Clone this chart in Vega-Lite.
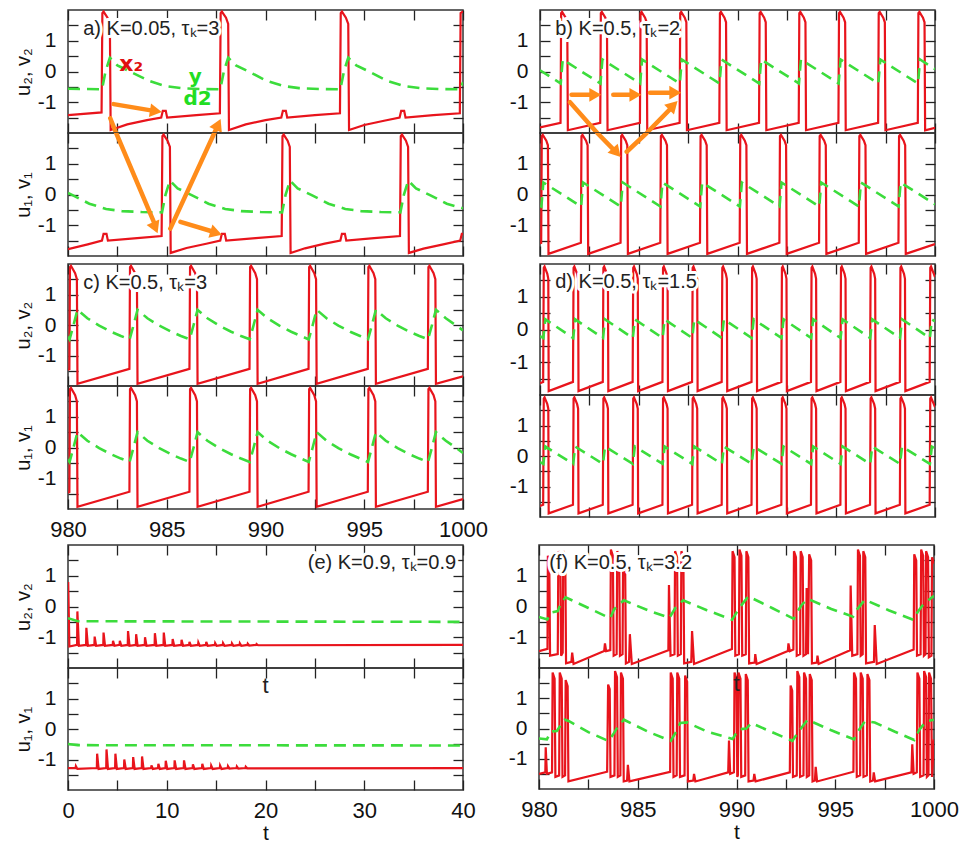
{
"$schema":"https://vega.github.io/schema/vega-lite/v6.json",
"background":"white",
"padding":{"left":12,"top":8,"right":0,"bottom":0},
"spacing":4,
"datasets":{
"a2r":[{"t":980,"y":-1.42},{"t":981.7,"y":-1.33},{"t":981.74,"y":1.9},{"t":981.8,"y":1.95},{"t":982,"y":1.75},{"t":982.12,"y":1.55},{"t":982.16,"y":-1.9},{"t":983,"y":-1.72},{"t":984,"y":-1.58},{"t":984.72,"y":-1.5},{"t":984.8,"y":-1.28},{"t":984.95,"y":-1.28},{"t":985.02,"y":-1.5},{"t":986.5,"y":-1.42},{"t":987.69,"y":-1.36},{"t":987.73,"y":1.9},{"t":987.79,"y":1.95},{"t":988,"y":1.75},{"t":988.11,"y":1.55},{"t":988.15,"y":-1.9},{"t":989,"y":-1.72},{"t":990,"y":-1.58},{"t":990.8,"y":-1.5},{"t":990.88,"y":-1.28},{"t":991.03,"y":-1.28},{"t":991.1,"y":-1.5},{"t":992.5,"y":-1.42},{"t":993.77,"y":-1.36},{"t":993.81,"y":1.9},{"t":993.87,"y":1.95},{"t":994.07,"y":1.75},{"t":994.19,"y":1.55},{"t":994.23,"y":-1.9},{"t":995,"y":-1.74},{"t":996,"y":-1.6},{"t":996.79,"y":-1.5},{"t":996.87,"y":-1.28},{"t":997.02,"y":-1.28},{"t":997.09,"y":-1.5},{"t":998.5,"y":-1.42},{"t":999.84,"y":-1.36},{"t":999.88,"y":1.9},{"t":1000,"y":1.95}],
"a2g":[{"t":980,"y":-0.56},{"t":981.72,"y":-0.58},{"t":981.9,"y":0},{"t":982.12,"y":0.45},{"t":982.5,"y":0.2},{"t":983.2,"y":-0.02},{"t":984.1,"y":-0.3},{"t":984.9,"y":-0.47},{"t":985.7,"y":-0.54},{"t":986.7,"y":-0.57},{"t":987.71,"y":-0.58},{"t":987.89,"y":0},{"t":988.11,"y":0.45},{"t":988.5,"y":0.2},{"t":989.2,"y":-0.02},{"t":990.05,"y":-0.3},{"t":990.9,"y":-0.47},{"t":991.7,"y":-0.54},{"t":992.7,"y":-0.57},{"t":993.79,"y":-0.58},{"t":993.97,"y":0},{"t":994.19,"y":0.45},{"t":994.6,"y":0.2},{"t":995.3,"y":-0.02},{"t":996.15,"y":-0.3},{"t":997,"y":-0.47},{"t":997.8,"y":-0.54},{"t":998.8,"y":-0.57},{"t":999.86,"y":-0.58},{"t":1000,"y":-0.35}],
"a1r":[{"t":980,"y":-1.78},{"t":981,"y":-1.62},{"t":981.72,"y":-1.5},{"t":981.8,"y":-1.28},{"t":981.95,"y":-1.28},{"t":982.02,"y":-1.5},{"t":983.5,"y":-1.42},{"t":984.74,"y":-1.35},{"t":984.78,"y":1.9},{"t":984.84,"y":1.95},{"t":985.04,"y":1.75},{"t":985.16,"y":1.55},{"t":985.2,"y":-1.9},{"t":986,"y":-1.74},{"t":987,"y":-1.6},{"t":987.71,"y":-1.5},{"t":987.79,"y":-1.28},{"t":987.94,"y":-1.28},{"t":988.01,"y":-1.5},{"t":989.5,"y":-1.42},{"t":990.82,"y":-1.35},{"t":990.86,"y":1.9},{"t":990.92,"y":1.95},{"t":991.12,"y":1.75},{"t":991.23,"y":1.55},{"t":991.27,"y":-1.9},{"t":992,"y":-1.75},{"t":993,"y":-1.6},{"t":993.79,"y":-1.5},{"t":993.87,"y":-1.28},{"t":994.02,"y":-1.28},{"t":994.09,"y":-1.5},{"t":995.5,"y":-1.42},{"t":996.81,"y":-1.35},{"t":996.85,"y":1.9},{"t":996.91,"y":1.95},{"t":997.11,"y":1.75},{"t":997.22,"y":1.55},{"t":997.26,"y":-1.9},{"t":998,"y":-1.76},{"t":999,"y":-1.62},{"t":999.86,"y":-1.5},{"t":999.94,"y":-1.28},{"t":1000,"y":-1.28}],
"a1g":[{"t":980,"y":0.05},{"t":980.23,"y":-0.02},{"t":981.08,"y":-0.3},{"t":981.93,"y":-0.47},{"t":982.73,"y":-0.54},{"t":983.73,"y":-0.57},{"t":984.76,"y":-0.58},{"t":984.94,"y":0},{"t":985.16,"y":0.45},{"t":985.55,"y":0.2},{"t":986.26,"y":-0.02},{"t":987.11,"y":-0.3},{"t":987.96,"y":-0.47},{"t":988.76,"y":-0.54},{"t":989.76,"y":-0.57},{"t":990.84,"y":-0.58},{"t":991.02,"y":0},{"t":991.24,"y":0.45},{"t":991.63,"y":0.2},{"t":992.34,"y":-0.02},{"t":993.19,"y":-0.3},{"t":994.04,"y":-0.47},{"t":994.84,"y":-0.54},{"t":995.84,"y":-0.57},{"t":996.83,"y":-0.58},{"t":997.01,"y":0},{"t":997.23,"y":0.45},{"t":997.62,"y":0.2},{"t":998.33,"y":-0.02},{"t":999.18,"y":-0.3},{"t":1000,"y":-0.45}],
"b2r":[{"t":980,"y":-1.82},{"t":981.04,"y":-1.67},{"t":981.07,"y":1.9},{"t":981.12,"y":1.94},{"t":981.3,"y":1.75},{"t":981.38,"y":1.6},{"t":981.41,"y":-1.91},{"t":983.05,"y":-1.67},{"t":983.08,"y":1.9},{"t":983.13,"y":1.94},{"t":983.31,"y":1.75},{"t":983.39,"y":1.6},{"t":983.42,"y":-1.91},{"t":985.06,"y":-1.67},{"t":985.09,"y":1.9},{"t":985.14,"y":1.94},{"t":985.32,"y":1.75},{"t":985.4,"y":1.6},{"t":985.43,"y":-1.91},{"t":987.07,"y":-1.67},{"t":987.1,"y":1.9},{"t":987.15,"y":1.94},{"t":987.33,"y":1.75},{"t":987.41,"y":1.6},{"t":987.44,"y":-1.91},{"t":989.08,"y":-1.67},{"t":989.11,"y":1.9},{"t":989.16,"y":1.94},{"t":989.34,"y":1.75},{"t":989.42,"y":1.6},{"t":989.45,"y":-1.91},{"t":991.09,"y":-1.67},{"t":991.12,"y":1.9},{"t":991.17,"y":1.94},{"t":991.35,"y":1.75},{"t":991.43,"y":1.6},{"t":991.46,"y":-1.91},{"t":993.1,"y":-1.67},{"t":993.13,"y":1.9},{"t":993.18,"y":1.94},{"t":993.36,"y":1.75},{"t":993.44,"y":1.6},{"t":993.47,"y":-1.91},{"t":995.11,"y":-1.67},{"t":995.14,"y":1.9},{"t":995.19,"y":1.94},{"t":995.37,"y":1.75},{"t":995.45,"y":1.6},{"t":995.48,"y":-1.91},{"t":997.12,"y":-1.67},{"t":997.15,"y":1.9},{"t":997.2,"y":1.94},{"t":997.38,"y":1.75},{"t":997.46,"y":1.6},{"t":997.49,"y":-1.91},{"t":999.13,"y":-1.67},{"t":999.16,"y":1.9},{"t":999.21,"y":1.94},{"t":999.39,"y":1.75},{"t":999.47,"y":1.6},{"t":999.5,"y":-1.91},{"t":1000,"y":-1.83}],
"b2g":[{"t":980,"y":0.04},{"t":981.05,"y":-0.39},{"t":981.15,"y":0.39},{"t":983.06,"y":-0.39},{"t":983.16,"y":0.39},{"t":985.07,"y":-0.39},{"t":985.17,"y":0.39},{"t":987.08,"y":-0.39},{"t":987.18,"y":0.39},{"t":989.09,"y":-0.39},{"t":989.19,"y":0.39},{"t":991.1,"y":-0.39},{"t":991.2,"y":0.39},{"t":993.11,"y":-0.39},{"t":993.21,"y":0.39},{"t":995.12,"y":-0.39},{"t":995.22,"y":0.39},{"t":997.13,"y":-0.39},{"t":997.23,"y":0.39},{"t":999.14,"y":-0.39},{"t":999.24,"y":0.39},{"t":1000,"y":0.08}],
"b1r":[{"t":980,"y":-1.58},{"t":980.06,"y":-1.57},{"t":980.09,"y":1.9},{"t":980.14,"y":1.94},{"t":980.32,"y":1.75},{"t":980.4,"y":1.6},{"t":980.43,"y":-1.93},{"t":982.07,"y":-1.57},{"t":982.1,"y":1.9},{"t":982.15,"y":1.94},{"t":982.33,"y":1.75},{"t":982.41,"y":1.6},{"t":982.44,"y":-1.93},{"t":984.08,"y":-1.57},{"t":984.11,"y":1.9},{"t":984.16,"y":1.94},{"t":984.34,"y":1.75},{"t":984.42,"y":1.6},{"t":984.45,"y":-1.93},{"t":986.09,"y":-1.57},{"t":986.12,"y":1.9},{"t":986.17,"y":1.94},{"t":986.35,"y":1.75},{"t":986.43,"y":1.6},{"t":986.46,"y":-1.93},{"t":988.1,"y":-1.57},{"t":988.13,"y":1.9},{"t":988.18,"y":1.94},{"t":988.36,"y":1.75},{"t":988.44,"y":1.6},{"t":988.47,"y":-1.93},{"t":990.11,"y":-1.57},{"t":990.14,"y":1.9},{"t":990.19,"y":1.94},{"t":990.37,"y":1.75},{"t":990.45,"y":1.6},{"t":990.48,"y":-1.93},{"t":992.12,"y":-1.57},{"t":992.15,"y":1.9},{"t":992.2,"y":1.94},{"t":992.38,"y":1.75},{"t":992.46,"y":1.6},{"t":992.49,"y":-1.93},{"t":994.13,"y":-1.57},{"t":994.16,"y":1.9},{"t":994.21,"y":1.94},{"t":994.39,"y":1.75},{"t":994.47,"y":1.6},{"t":994.5,"y":-1.93},{"t":996.14,"y":-1.57},{"t":996.17,"y":1.9},{"t":996.22,"y":1.94},{"t":996.4,"y":1.75},{"t":996.48,"y":1.6},{"t":996.51,"y":-1.93},{"t":998.15,"y":-1.57},{"t":998.18,"y":1.9},{"t":998.23,"y":1.94},{"t":998.41,"y":1.75},{"t":998.49,"y":1.6},{"t":998.52,"y":-1.93},{"t":1000,"y":-1.61}],
"b1g":[{"t":980,"y":-0.36},{"t":980.07,"y":-0.39},{"t":980.17,"y":0.39},{"t":982.08,"y":-0.39},{"t":982.18,"y":0.39},{"t":984.09,"y":-0.39},{"t":984.19,"y":0.39},{"t":986.1,"y":-0.39},{"t":986.2,"y":0.39},{"t":988.11,"y":-0.39},{"t":988.21,"y":0.39},{"t":990.12,"y":-0.39},{"t":990.22,"y":0.39},{"t":992.13,"y":-0.39},{"t":992.23,"y":0.39},{"t":994.14,"y":-0.39},{"t":994.24,"y":0.39},{"t":996.15,"y":-0.39},{"t":996.25,"y":0.39},{"t":998.16,"y":-0.39},{"t":998.26,"y":0.39},{"t":1000,"y":-0.32}],
"cr":[{"t":980,"y":-1.47},{"t":980.07,"y":-1.45},{"t":980.1,"y":1.9},{"t":980.15,"y":1.94},{"t":980.36,"y":1.7},{"t":980.45,"y":1.5},{"t":980.48,"y":-1.93},{"t":983.11,"y":-1.44},{"t":983.14,"y":1.9},{"t":983.19,"y":1.94},{"t":983.4,"y":1.7},{"t":983.49,"y":1.5},{"t":983.52,"y":-1.93},{"t":986.15,"y":-1.44},{"t":986.18,"y":1.9},{"t":986.23,"y":1.94},{"t":986.44,"y":1.7},{"t":986.53,"y":1.5},{"t":986.56,"y":-1.93},{"t":989.19,"y":-1.44},{"t":989.22,"y":1.9},{"t":989.27,"y":1.94},{"t":989.48,"y":1.7},{"t":989.57,"y":1.5},{"t":989.6,"y":-1.93},{"t":992.18,"y":-1.44},{"t":992.21,"y":1.9},{"t":992.26,"y":1.94},{"t":992.47,"y":1.7},{"t":992.56,"y":1.5},{"t":992.59,"y":-1.93},{"t":995.18,"y":-1.44},{"t":995.21,"y":1.9},{"t":995.26,"y":1.94},{"t":995.47,"y":1.7},{"t":995.56,"y":1.5},{"t":995.59,"y":-1.93},{"t":998.22,"y":-1.44},{"t":998.25,"y":1.9},{"t":998.3,"y":1.94},{"t":998.51,"y":1.7},{"t":998.6,"y":1.5},{"t":998.63,"y":-1.93},{"t":1000,"y":-1.68}],
"cg":[{"t":980,"y":-0.38},{"t":980.08,"y":-0.47},{"t":980.28,"y":0},{"t":980.48,"y":0.5},{"t":980.98,"y":0.22},{"t":981.58,"y":-0.02},{"t":982.18,"y":-0.22},{"t":982.68,"y":-0.36},{"t":983.12,"y":-0.47},{"t":983.32,"y":0},{"t":983.52,"y":0.5},{"t":984.02,"y":0.22},{"t":984.62,"y":-0.02},{"t":985.22,"y":-0.22},{"t":985.72,"y":-0.36},{"t":986.16,"y":-0.47},{"t":986.36,"y":0},{"t":986.56,"y":0.5},{"t":987.06,"y":0.22},{"t":987.66,"y":-0.02},{"t":988.26,"y":-0.22},{"t":988.76,"y":-0.36},{"t":989.2,"y":-0.47},{"t":989.4,"y":0},{"t":989.6,"y":0.5},{"t":990.1,"y":0.22},{"t":990.7,"y":-0.02},{"t":991.3,"y":-0.22},{"t":991.8,"y":-0.36},{"t":992.19,"y":-0.47},{"t":992.39,"y":0},{"t":992.59,"y":0.5},{"t":993.09,"y":0.22},{"t":993.69,"y":-0.02},{"t":994.29,"y":-0.22},{"t":994.79,"y":-0.36},{"t":995.19,"y":-0.47},{"t":995.39,"y":0},{"t":995.59,"y":0.5},{"t":996.09,"y":0.22},{"t":996.69,"y":-0.02},{"t":997.29,"y":-0.22},{"t":997.79,"y":-0.36},{"t":998.23,"y":-0.47},{"t":998.43,"y":0},{"t":998.63,"y":0.5},{"t":999.13,"y":0.22},{"t":999.73,"y":-0.05},{"t":1000,"y":-0.18}],
"dr":[{"t":980,"y":-1.64},{"t":980.16,"y":-1.6},{"t":980.19,"y":1.88},{"t":980.23,"y":1.92},{"t":980.37,"y":1.7},{"t":980.42,"y":1.55},{"t":980.44,"y":-1.88},{"t":981.67,"y":-1.6},{"t":981.7,"y":1.88},{"t":981.74,"y":1.92},{"t":981.88,"y":1.7},{"t":981.93,"y":1.55},{"t":981.95,"y":-1.88},{"t":983.18,"y":-1.6},{"t":983.21,"y":1.88},{"t":983.25,"y":1.92},{"t":983.39,"y":1.7},{"t":983.44,"y":1.55},{"t":983.46,"y":-1.88},{"t":984.69,"y":-1.6},{"t":984.72,"y":1.88},{"t":984.76,"y":1.92},{"t":984.9,"y":1.7},{"t":984.95,"y":1.55},{"t":984.97,"y":-1.88},{"t":986.2,"y":-1.6},{"t":986.23,"y":1.88},{"t":986.27,"y":1.92},{"t":986.41,"y":1.7},{"t":986.46,"y":1.55},{"t":986.48,"y":-1.88},{"t":987.7,"y":-1.6},{"t":987.73,"y":1.88},{"t":987.77,"y":1.92},{"t":987.91,"y":1.7},{"t":987.96,"y":1.55},{"t":987.98,"y":-1.88},{"t":989.2,"y":-1.6},{"t":989.23,"y":1.88},{"t":989.27,"y":1.92},{"t":989.41,"y":1.7},{"t":989.46,"y":1.55},{"t":989.48,"y":-1.88},{"t":990.71,"y":-1.6},{"t":990.74,"y":1.88},{"t":990.78,"y":1.92},{"t":990.92,"y":1.7},{"t":990.97,"y":1.55},{"t":990.99,"y":-1.88},{"t":992.22,"y":-1.6},{"t":992.25,"y":1.88},{"t":992.29,"y":1.92},{"t":992.43,"y":1.7},{"t":992.48,"y":1.55},{"t":992.5,"y":-1.88},{"t":993.72,"y":-1.6},{"t":993.75,"y":1.88},{"t":993.79,"y":1.92},{"t":993.93,"y":1.7},{"t":993.98,"y":1.55},{"t":994,"y":-1.88},{"t":995.21,"y":-1.6},{"t":995.24,"y":1.88},{"t":995.28,"y":1.92},{"t":995.42,"y":1.7},{"t":995.47,"y":1.55},{"t":995.49,"y":-1.88},{"t":996.71,"y":-1.6},{"t":996.74,"y":1.88},{"t":996.78,"y":1.92},{"t":996.92,"y":1.7},{"t":996.97,"y":1.55},{"t":996.99,"y":-1.88},{"t":998.22,"y":-1.6},{"t":998.25,"y":1.88},{"t":998.29,"y":1.92},{"t":998.43,"y":1.7},{"t":998.48,"y":1.55},{"t":998.5,"y":-1.88},{"t":999.73,"y":-1.6},{"t":999.76,"y":1.88},{"t":999.8,"y":1.92},{"t":999.94,"y":1.7},{"t":1000,"y":1.6}],
"dg":[{"t":980,"y":-0.2},{"t":980.17,"y":-0.26},{"t":980.27,"y":0.31},{"t":981.68,"y":-0.26},{"t":981.78,"y":0.31},{"t":983.19,"y":-0.26},{"t":983.29,"y":0.31},{"t":984.7,"y":-0.26},{"t":984.8,"y":0.31},{"t":986.21,"y":-0.26},{"t":986.31,"y":0.31},{"t":987.71,"y":-0.26},{"t":987.81,"y":0.31},{"t":989.21,"y":-0.26},{"t":989.31,"y":0.31},{"t":990.72,"y":-0.26},{"t":990.82,"y":0.31},{"t":992.23,"y":-0.26},{"t":992.33,"y":0.31},{"t":993.73,"y":-0.26},{"t":993.83,"y":0.31},{"t":995.22,"y":-0.26},{"t":995.32,"y":0.31},{"t":996.72,"y":-0.26},{"t":996.82,"y":0.31},{"t":998.23,"y":-0.26},{"t":998.33,"y":0.31},{"t":999.74,"y":-0.26},{"t":999.84,"y":0.31},{"t":1000,"y":0.25}],
"e2r":[{"t":0,"y":-0.9},{"t":0.02,"y":0.8},{"t":0.14,"y":-1.3},{"t":0.92,"y":-1.25},{"t":0.95,"y":-0.16},{"t":1.1,"y":-1.28},{"t":1.83,"y":-1.25},{"t":1.86,"y":-0.69},{"t":2.01,"y":-1.28},{"t":2.67,"y":-1.25},{"t":2.7,"y":-0.98},{"t":2.85,"y":-1.28},{"t":3.57,"y":-1.25},{"t":3.6,"y":-0.85},{"t":3.75,"y":-1.28},{"t":4.53,"y":-1.25},{"t":4.56,"y":-1.12},{"t":4.71,"y":-1.28},{"t":5.22,"y":-1.25},{"t":5.25,"y":-1.12},{"t":5.4,"y":-1.28},{"t":6.05,"y":-1.25},{"t":6.08,"y":-0.8},{"t":6.23,"y":-1.28},{"t":6.87,"y":-1.25},{"t":6.9,"y":-0.9},{"t":7.05,"y":-1.28},{"t":7.77,"y":-1.25},{"t":7.8,"y":-1},{"t":7.95,"y":-1.28},{"t":8.77,"y":-1.25},{"t":8.8,"y":-0.87},{"t":8.95,"y":-1.28},{"t":9.67,"y":-1.25},{"t":9.7,"y":-0.85},{"t":9.85,"y":-1.28},{"t":10.57,"y":-1.25},{"t":10.6,"y":-1.06},{"t":10.75,"y":-1.28},{"t":11.47,"y":-1.25},{"t":11.5,"y":-1.08},{"t":11.65,"y":-1.28},{"t":12.27,"y":-1.25},{"t":12.3,"y":-1.15},{"t":12.45,"y":-1.28},{"t":13.17,"y":-1.25},{"t":13.2,"y":-1.17},{"t":13.35,"y":-1.28},{"t":13.97,"y":-1.25},{"t":14,"y":-1.15},{"t":14.15,"y":-1.28},{"t":14.87,"y":-1.25},{"t":14.9,"y":-1.19},{"t":15.05,"y":-1.28},{"t":15.67,"y":-1.25},{"t":15.7,"y":-1.19},{"t":15.85,"y":-1.28},{"t":16.57,"y":-1.25},{"t":16.6,"y":-1.2},{"t":16.75,"y":-1.28},{"t":17.37,"y":-1.25},{"t":17.4,"y":-1.2},{"t":17.55,"y":-1.28},{"t":18.17,"y":-1.25},{"t":18.2,"y":-1.21},{"t":18.35,"y":-1.27},{"t":19.07,"y":-1.25},{"t":19.1,"y":-1.22},{"t":19.25,"y":-1.26},{"t":40,"y":-1.25}],
"e2g":[{"t":0,"y":-0.38},{"t":1,"y":-0.48},{"t":40,"y":-0.5}],
"e1r":[{"t":0,"y":-1.28},{"t":0.77,"y":-1.28},{"t":0.8,"y":-1.22},{"t":0.95,"y":-1.31},{"t":2.92,"y":-1.28},{"t":2.95,"y":-0.81},{"t":3.1,"y":-1.31},{"t":3.87,"y":-1.28},{"t":3.9,"y":-0.67},{"t":4.05,"y":-1.31},{"t":4.77,"y":-1.28},{"t":4.8,"y":-0.81},{"t":4.95,"y":-1.31},{"t":5.67,"y":-1.28},{"t":5.7,"y":-1},{"t":5.85,"y":-1.31},{"t":6.57,"y":-1.28},{"t":6.6,"y":-0.92},{"t":6.75,"y":-1.31},{"t":7.47,"y":-1.28},{"t":7.5,"y":-0.9},{"t":7.65,"y":-1.31},{"t":8.42,"y":-1.28},{"t":8.45,"y":-1.19},{"t":8.6,"y":-1.31},{"t":9.12,"y":-1.28},{"t":9.15,"y":-1.14},{"t":9.3,"y":-1.31},{"t":9.87,"y":-1.28},{"t":9.9,"y":-1.04},{"t":10.05,"y":-1.31},{"t":10.77,"y":-1.28},{"t":10.8,"y":-1.03},{"t":10.95,"y":-1.31},{"t":11.72,"y":-1.28},{"t":11.75,"y":-1.03},{"t":11.9,"y":-1.31},{"t":12.62,"y":-1.28},{"t":12.65,"y":-1.16},{"t":12.8,"y":-1.31},{"t":13.57,"y":-1.28},{"t":13.6,"y":-1.14},{"t":13.75,"y":-1.31},{"t":14.47,"y":-1.28},{"t":14.5,"y":-1.2},{"t":14.65,"y":-1.31},{"t":15.37,"y":-1.28},{"t":15.4,"y":-1.2},{"t":15.55,"y":-1.31},{"t":16.17,"y":-1.28},{"t":16.2,"y":-1.22},{"t":16.35,"y":-1.3},{"t":17.07,"y":-1.28},{"t":17.1,"y":-1.23},{"t":17.25,"y":-1.3},{"t":17.97,"y":-1.28},{"t":18,"y":-1.24},{"t":18.15,"y":-1.29},{"t":40,"y":-1.28}],
"e1g":[{"t":0,"y":-0.49},{"t":1,"y":-0.53},{"t":40,"y":-0.54}],
"f2r":[{"t":980,"y":-1.45},{"t":980.43,"y":-1.38},{"t":980.45,"y":1.65},{"t":980.52,"y":1.5},{"t":980.56,"y":-1.6},{"t":980.95,"y":-1.55},{"t":980.98,"y":1.8},{"t":981.08,"y":1.6},{"t":981.12,"y":-1.6},{"t":981.2,"y":-1.5},{"t":981.23,"y":1.8},{"t":981.33,"y":1.6},{"t":981.37,"y":-1.85},{"t":981.64,"y":-1.8},{"t":981.68,"y":-1.5},{"t":981.75,"y":-1.87},{"t":983.3,"y":-1.45},{"t":983.34,"y":-1.2},{"t":983.4,"y":-1.45},{"t":983.61,"y":-1.42},{"t":983.64,"y":1.85},{"t":983.74,"y":1.65},{"t":983.78,"y":-1.6},{"t":983.93,"y":-1.55},{"t":983.96,"y":1.8},{"t":984.06,"y":1.6},{"t":984.1,"y":-1.6},{"t":984.23,"y":-1.55},{"t":984.26,"y":1.65},{"t":984.36,"y":1.5},{"t":984.4,"y":-1.85},{"t":984.56,"y":-1.8},{"t":984.6,"y":-0.9},{"t":984.7,"y":-1.87},{"t":986.55,"y":-1.42},{"t":986.58,"y":0.7},{"t":986.66,"y":-1.6},{"t":986.86,"y":-1.55},{"t":986.89,"y":1.8},{"t":986.99,"y":1.6},{"t":987.03,"y":-1.6},{"t":987.18,"y":-1.55},{"t":987.21,"y":1.8},{"t":987.31,"y":1.6},{"t":987.35,"y":-1.85},{"t":987.71,"y":-1.8},{"t":987.75,"y":-0.8},{"t":987.85,"y":-1.87},{"t":989.77,"y":-1.38},{"t":989.8,"y":1.8},{"t":989.9,"y":1.6},{"t":989.94,"y":-1.6},{"t":990.12,"y":-1.55},{"t":990.15,"y":1.85},{"t":990.25,"y":1.65},{"t":990.29,"y":-1.6},{"t":990.47,"y":-1.55},{"t":990.5,"y":1.8},{"t":990.6,"y":1.6},{"t":990.64,"y":-1.85},{"t":990.92,"y":-1.82},{"t":990.95,"y":-1.55},{"t":991.02,"y":-1.87},{"t":992.6,"y":-1.45},{"t":992.63,"y":-1.2},{"t":992.7,"y":-1.45},{"t":992.88,"y":-1.4},{"t":992.91,"y":1.8},{"t":993.01,"y":1.6},{"t":993.05,"y":-1.6},{"t":993.22,"y":-1.55},{"t":993.25,"y":1.8},{"t":993.35,"y":1.6},{"t":993.39,"y":-1.6},{"t":993.52,"y":-1.55},{"t":993.55,"y":0.6},{"t":993.62,"y":-1.55},{"t":993.68,"y":1.7},{"t":993.78,"y":1.5},{"t":993.82,"y":-1.85},{"t":994.07,"y":-1.82},{"t":994.1,"y":-1.6},{"t":994.16,"y":-1.87},{"t":995.75,"y":-1.42},{"t":995.78,"y":0.68},{"t":995.86,"y":-1.6},{"t":996.12,"y":-1.55},{"t":996.15,"y":1.85},{"t":996.25,"y":1.65},{"t":996.29,"y":-1.6},{"t":996.39,"y":-1.55},{"t":996.42,"y":1.8},{"t":996.52,"y":1.6},{"t":996.56,"y":-1.85},{"t":996.96,"y":-1.8},{"t":997,"y":-0.6},{"t":997.1,"y":-1.87},{"t":998.97,"y":-1.4},{"t":999,"y":1.7},{"t":999.1,"y":1.5},{"t":999.14,"y":-1.6},{"t":999.32,"y":-1.55},{"t":999.35,"y":1.85},{"t":999.45,"y":1.65},{"t":999.49,"y":-1.6},{"t":999.57,"y":-1.55},{"t":999.6,"y":1.8},{"t":999.7,"y":1.6},{"t":999.74,"y":-1.65},{"t":999.87,"y":-1.6},{"t":999.9,"y":1.6},{"t":1000,"y":1.4}],
"f2g":[{"t":980,"y":-0.34},{"t":980.42,"y":-0.42},{"t":980.6,"y":-0.2},{"t":980.95,"y":-0.15},{"t":981.1,"y":0.1},{"t":981.35,"y":0.3},{"t":982.5,"y":-0.05},{"t":983.6,"y":-0.38},{"t":983.8,"y":-0.1},{"t":984,"y":0.05},{"t":984.3,"y":0.2},{"t":985.5,"y":-0.12},{"t":986.6,"y":-0.37},{"t":986.9,"y":-0.05},{"t":987.3,"y":0.2},{"t":988.5,"y":-0.12},{"t":989.78,"y":-0.43},{"t":990,"y":-0.2},{"t":990.2,"y":0},{"t":990.6,"y":0.33},{"t":991.8,"y":-0.05},{"t":992.9,"y":-0.4},{"t":993.1,"y":-0.15},{"t":993.3,"y":0.05},{"t":993.6,"y":0.25},{"t":994.8,"y":-0.08},{"t":995.9,"y":-0.33},{"t":996.1,"y":-0.1},{"t":996.5,"y":0.22},{"t":997.7,"y":-0.12},{"t":998.95,"y":-0.43},{"t":999.2,"y":-0.15},{"t":999.5,"y":0.1},{"t":1000,"y":0.35}],
"f1r":[{"t":980,"y":-1.5},{"t":980.32,"y":-1.45},{"t":980.34,"y":-0.62},{"t":980.4,"y":-1.5},{"t":980.66,"y":-1.45},{"t":980.69,"y":1.85},{"t":980.79,"y":1.65},{"t":980.83,"y":-1.6},{"t":981.02,"y":-1.55},{"t":981.05,"y":1.85},{"t":981.15,"y":1.65},{"t":981.19,"y":-1.6},{"t":981.32,"y":-1.55},{"t":981.35,"y":1.6},{"t":981.45,"y":1.4},{"t":981.49,"y":-1.75},{"t":983.45,"y":-1.43},{"t":983.5,"y":1.45},{"t":983.58,"y":1.3},{"t":983.62,"y":-1.6},{"t":983.82,"y":-1.55},{"t":983.85,"y":1.9},{"t":983.95,"y":1.7},{"t":983.99,"y":-1.6},{"t":984.12,"y":-1.55},{"t":984.15,"y":1.85},{"t":984.25,"y":1.65},{"t":984.29,"y":-1.75},{"t":984.46,"y":-1.72},{"t":984.5,"y":-1.2},{"t":984.58,"y":-1.75},{"t":986.64,"y":-1.43},{"t":986.67,"y":1.85},{"t":986.77,"y":1.65},{"t":986.81,"y":-1.6},{"t":986.97,"y":-1.55},{"t":987,"y":1.85},{"t":987.1,"y":1.65},{"t":987.14,"y":-1.6},{"t":987.37,"y":-1.55},{"t":987.4,"y":1.75},{"t":987.5,"y":1.55},{"t":987.54,"y":-1.75},{"t":987.81,"y":-1.72},{"t":987.85,"y":-1.5},{"t":987.92,"y":-1.75},{"t":989.58,"y":-1.45},{"t":989.62,"y":-0.4},{"t":989.68,"y":-1.5},{"t":989.87,"y":-1.45},{"t":989.9,"y":1.85},{"t":990,"y":1.65},{"t":990.04,"y":-1.6},{"t":990.07,"y":-1.55},{"t":990.1,"y":1.85},{"t":990.2,"y":1.65},{"t":990.24,"y":-1.6},{"t":990.44,"y":-1.55},{"t":990.47,"y":1.8},{"t":990.57,"y":1.6},{"t":990.61,"y":-1.75},{"t":990.86,"y":-1.72},{"t":990.9,"y":-1.5},{"t":990.97,"y":-1.75},{"t":992.7,"y":-1.45},{"t":992.74,"y":1.42},{"t":992.82,"y":1.25},{"t":992.86,"y":-1.6},{"t":993.05,"y":-1.55},{"t":993.08,"y":1.9},{"t":993.18,"y":1.7},{"t":993.22,"y":-1.6},{"t":993.39,"y":-1.55},{"t":993.42,"y":1.85},{"t":993.52,"y":1.65},{"t":993.56,"y":-1.6},{"t":993.68,"y":-1.55},{"t":993.71,"y":1.8},{"t":993.81,"y":1.6},{"t":993.85,"y":-1.75},{"t":993.97,"y":-1.72},{"t":994.01,"y":-1.27},{"t":994.08,"y":-1.75},{"t":995.92,"y":-1.43},{"t":995.95,"y":1.85},{"t":996.05,"y":1.65},{"t":996.09,"y":-1.6},{"t":996.26,"y":-1.55},{"t":996.29,"y":1.85},{"t":996.39,"y":1.65},{"t":996.43,"y":-1.6},{"t":996.6,"y":-1.55},{"t":996.63,"y":1.8},{"t":996.73,"y":1.6},{"t":996.77,"y":-1.75},{"t":996.91,"y":-1.72},{"t":996.95,"y":-1.45},{"t":997.02,"y":-1.75},{"t":998.86,"y":-1.45},{"t":998.9,"y":-0.52},{"t":998.97,"y":-1.5},{"t":999.13,"y":-1.45},{"t":999.16,"y":1.85},{"t":999.26,"y":1.65},{"t":999.3,"y":-1.6},{"t":999.47,"y":-1.55},{"t":999.5,"y":1.9},{"t":999.6,"y":1.7},{"t":999.64,"y":-1.6},{"t":999.72,"y":-1.55},{"t":999.75,"y":1.85},{"t":999.85,"y":1.65},{"t":999.9,"y":-1.6},{"t":1000,"y":-0.36}],
"f1g":[{"t":980,"y":-0.33},{"t":980.4,"y":-0.36},{"t":980.6,"y":-0.1},{"t":980.9,"y":-0.08},{"t":981.3,"y":0.29},{"t":981.5,"y":0.25},{"t":982.5,"y":-0.12},{"t":983.5,"y":-0.41},{"t":983.75,"y":-0.2},{"t":983.95,"y":0.02},{"t":984.3,"y":0.29},{"t":985.5,"y":-0.1},{"t":986.67,"y":-0.41},{"t":986.9,"y":-0.15},{"t":987.15,"y":0.18},{"t":987.5,"y":0.2},{"t":988.5,"y":-0.1},{"t":989.8,"y":-0.35},{"t":990.1,"y":-0.03},{"t":990.5,"y":0},{"t":990.75,"y":0.18},{"t":991.8,"y":-0.12},{"t":992.83,"y":-0.41},{"t":993.2,"y":-0.05},{"t":993.6,"y":0.29},{"t":994.8,"y":-0.06},{"t":995.95,"y":-0.36},{"t":996.15,"y":-0.1},{"t":996.5,"y":0.24},{"t":997,"y":0.2},{"t":998,"y":-0.1},{"t":999,"y":-0.38},{"t":999.25,"y":-0.05},{"t":999.6,"y":0.24},{"t":1000,"y":0.29}],
"arrA2":[{"x":982.31,"y":-1.06,"x2":984.35,"y2":-1.28},{"x":982.14,"y":-1.52,"x2":982.44,"y2":-2.0},{"x":987.41,"y":-2.0,"x2":987.55,"y2":-1.8}],
"arrA1":[{"x":982.44,"y":2.0,"x2":984.35,"y2":-0.9},{"x":985.18,"y":-1.11,"x2":987.41,"y2":2.0},{"x":985.69,"y":-0.89,"x2":987.4,"y2":-1.22}],
"arrB2":[{"x":981.6,"y":-0.76,"x2":982.75,"y2":-0.76},{"x":983.71,"y":-0.76,"x2":984.78,"y2":-0.76},{"x":985.57,"y":-0.69,"x2":986.8,"y2":-0.69},{"x":981.52,"y":-1.0,"x2":982.9,"y2":-2.0},{"x":985.4,"y":-2.0,"x2":986.7,"y2":-1.15}],
"arrB1":[{"x":982.9,"y":2.0,"x2":983.85,"y2":1.38},{"x":984.39,"y":1.39,"x2":985.4,"y2":2.0}]
},
"vconcat":[
{"hconcat":[
{"vconcat":[
{"width":395,"height":123,"resolve":{"axis":{"x":"independent","y":"independent"}},"layer":[
{"data":{"name":"a2r"},"mark":{"type":"line","color":"#e8141c","strokeWidth":2.2,"clip":true},"encoding":{"x":{"field":"t","type":"quantitative","scale":{"domain":[980,1000],"nice":false,"zero":false},"axis":{"orient":"bottom","values":[980,982.5,985,987.5,990,992.5,995,997.5,1000],"labels":false,"title":null,"minExtent":0,"maxExtent":0}},"y":{"field":"y","type":"quantitative","scale":{"domain":[-2,2],"nice":false,"zero":false},"axis":{"orient":"left","values":[-1.5,-1,-0.5,0,0.5,1,1.5],"labelExpr":"datum.value === 1 ? '1' : datum.value === 0 ? '0' : datum.value === -1 ? '-1' : ''","title":"u₂, v₂"}}}},
{"data":{"name":"a2g"},"mark":{"type":"line","color":"#3cdc3c","strokeWidth":2.6,"strokeDash":[12,7],"clip":true},"encoding":{"x":{"field":"t","type":"quantitative","scale":{"domain":[980,1000],"nice":false,"zero":false},"axis":{"orient":"top","values":[980,982.5,985,987.5,990,992.5,995,997.5,1000],"labels":false,"title":null}},"y":{"field":"y","type":"quantitative","scale":{"domain":[-2,2],"nice":false,"zero":false},"axis":{"orient":"right","values":[-1.5,-1,-0.5,0,0.5,1,1.5],"labels":false,"title":null}}}},
{"data":{"name":"arrA2"},"mark":{"type":"rule","color":"#ff8c1a","strokeWidth":4.5,"strokeCap":"round","clip":true},"encoding":{"x":{"field":"x","type":"quantitative","axis":null},"y":{"field":"y","type":"quantitative","axis":null},"x2":{"field":"x2"},"y2":{"field":"y2"}}},
{"data":{"values":[{}]},"mark":{"type":"point","shape":"triangle-right","filled":true,"size":190,"color":"#ff8c1a","opacity":1,"angle":9},"encoding":{"x":{"datum":984.45,"type":"quantitative","axis":null},"y":{"datum":-1.29,"type":"quantitative","axis":null}}},
{"data":{"values":[{}]},"mark":{"type":"point","shape":"triangle-right","filled":true,"size":190,"color":"#ff8c1a","opacity":1,"angle":-65},"encoding":{"x":{"datum":987.6,"type":"quantitative","axis":null},"y":{"datum":-1.72,"type":"quantitative","axis":null}}},
{"data":{"values":[{}]},"mark":{"type":"text","align":"left","baseline":"middle","fontSize":20,"color":"white","stroke":"white","strokeWidth":6,"strokeJoin":"round"},"encoding":{"x":{"datum":980.77,"type":"quantitative","axis":null},"y":{"datum":1.37,"type":"quantitative","axis":null},"text":{"value":"a) K=0.05, τₖ=3"}}},
{"data":{"values":[{}]},"mark":{"type":"text","align":"left","baseline":"middle","fontSize":20,"color":"#222"},"encoding":{"x":{"datum":980.77,"type":"quantitative","axis":null},"y":{"datum":1.37,"type":"quantitative","axis":null},"text":{"value":"a) K=0.05, τₖ=3"}}},
{"data":{"values":[{}]},"mark":{"type":"text","align":"center","baseline":"middle","fontSize":22,"fontWeight":"bold","font":"DejaVu Sans","color":"#e01010"},"encoding":{"x":{"datum":983.2,"type":"quantitative","axis":null},"y":{"datum":0.26,"type":"quantitative","axis":null},"text":{"value":"x₂"}}},
{"data":{"values":[{}]},"mark":{"type":"text","align":"center","baseline":"middle","fontSize":20,"fontWeight":"bold","font":"DejaVu Sans","color":"#22dd22"},"encoding":{"x":{"datum":986.45,"type":"quantitative","axis":null},"y":{"datum":-0.17,"type":"quantitative","axis":null},"text":{"value":"y"}}},
{"data":{"values":[{}]},"mark":{"type":"text","align":"center","baseline":"middle","fontSize":20,"fontWeight":"bold","font":"DejaVu Sans","color":"#22dd22"},"encoding":{"x":{"datum":986.56,"type":"quantitative","axis":null},"y":{"datum":-0.9,"type":"quantitative","axis":null},"text":{"value":"d2"}}}
]},
{"width":395,"height":123,"resolve":{"axis":{"x":"independent","y":"independent"}},"layer":[
{"data":{"name":"a1r"},"mark":{"type":"line","color":"#e8141c","strokeWidth":2.2,"clip":true},"encoding":{"x":{"field":"t","type":"quantitative","scale":{"domain":[980,1000],"nice":false,"zero":false},"axis":{"orient":"bottom","values":[980,982.5,985,987.5,990,992.5,995,997.5,1000],"labels":false,"title":null,"minExtent":0,"maxExtent":0}},"y":{"field":"y","type":"quantitative","scale":{"domain":[-2,2],"nice":false,"zero":false},"axis":{"orient":"left","values":[-1.5,-1,-0.5,0,0.5,1,1.5],"labelExpr":"datum.value === 1 ? '1' : datum.value === 0 ? '0' : datum.value === -1 ? '-1' : ''","title":"u₁, v₁"}}}},
{"data":{"name":"a1g"},"mark":{"type":"line","color":"#3cdc3c","strokeWidth":2.6,"strokeDash":[12,7],"clip":true},"encoding":{"x":{"field":"t","type":"quantitative","scale":{"domain":[980,1000],"nice":false,"zero":false},"axis":{"orient":"top","values":[980,982.5,985,987.5,990,992.5,995,997.5,1000],"labels":false,"title":null}},"y":{"field":"y","type":"quantitative","scale":{"domain":[-2,2],"nice":false,"zero":false},"axis":{"orient":"right","values":[-1.5,-1,-0.5,0,0.5,1,1.5],"labels":false,"title":null}}}},
{"data":{"name":"arrA1"},"mark":{"type":"rule","color":"#ff8c1a","strokeWidth":4.5,"strokeCap":"round","clip":true},"encoding":{"x":{"field":"x","type":"quantitative","axis":null},"y":{"field":"y","type":"quantitative","axis":null},"x2":{"field":"x2"},"y2":{"field":"y2"}}},
{"data":{"values":[{}]},"mark":{"type":"point","shape":"triangle-right","filled":true,"size":190,"color":"#ff8c1a","opacity":1,"angle":67},"encoding":{"x":{"datum":984.42,"type":"quantitative","axis":null},"y":{"datum":-1.08,"type":"quantitative","axis":null}}},
{"data":{"values":[{}]},"mark":{"type":"point","shape":"triangle-right","filled":true,"size":190,"color":"#ff8c1a","opacity":1,"angle":17},"encoding":{"x":{"datum":987.5,"type":"quantitative","axis":null},"y":{"datum":-1.25,"type":"quantitative","axis":null}}}
]}
],"spacing":0,"bounds":"flush"},
{"vconcat":[
{"width":395,"height":123,"resolve":{"axis":{"x":"independent","y":"independent"}},"layer":[
{"data":{"name":"b2r"},"mark":{"type":"line","color":"#e8141c","strokeWidth":2.2,"clip":true},"encoding":{"x":{"field":"t","type":"quantitative","scale":{"domain":[980,1000],"nice":false,"zero":false},"axis":{"orient":"bottom","values":[980,982.5,985,987.5,990,992.5,995,997.5,1000],"labels":false,"title":null,"minExtent":0,"maxExtent":0}},"y":{"field":"y","type":"quantitative","scale":{"domain":[-2,2],"nice":false,"zero":false},"axis":{"orient":"left","values":[-1.5,-1,-0.5,0,0.5,1,1.5],"labelExpr":"datum.value === 1 ? '1' : datum.value === 0 ? '0' : datum.value === -1 ? '-1' : ''","title":null}}}},
{"data":{"name":"b2g"},"mark":{"type":"line","color":"#3cdc3c","strokeWidth":2.6,"strokeDash":[11,7],"clip":true},"encoding":{"x":{"field":"t","type":"quantitative","scale":{"domain":[980,1000],"nice":false,"zero":false},"axis":{"orient":"top","values":[980,982.5,985,987.5,990,992.5,995,997.5,1000],"labels":false,"title":null}},"y":{"field":"y","type":"quantitative","scale":{"domain":[-2,2],"nice":false,"zero":false},"axis":{"orient":"right","values":[-1.5,-1,-0.5,0,0.5,1,1.5],"labels":false,"title":null}}}},
{"data":{"name":"arrB2"},"mark":{"type":"rule","color":"#ff8c1a","strokeWidth":4.5,"strokeCap":"round","clip":true},"encoding":{"x":{"field":"x","type":"quantitative","axis":null},"y":{"field":"y","type":"quantitative","axis":null},"x2":{"field":"x2"},"y2":{"field":"y2"}}},
{"data":{"values":[{}]},"mark":{"type":"point","shape":"triangle-right","filled":true,"size":190,"color":"#ff8c1a","opacity":1,"angle":0},"encoding":{"x":{"datum":982.8,"type":"quantitative","axis":null},"y":{"datum":-0.76,"type":"quantitative","axis":null}}},
{"data":{"values":[{}]},"mark":{"type":"point","shape":"triangle-right","filled":true,"size":190,"color":"#ff8c1a","opacity":1,"angle":0},"encoding":{"x":{"datum":984.83,"type":"quantitative","axis":null},"y":{"datum":-0.76,"type":"quantitative","axis":null}}},
{"data":{"values":[{}]},"mark":{"type":"point","shape":"triangle-right","filled":true,"size":190,"color":"#ff8c1a","opacity":1,"angle":0},"encoding":{"x":{"datum":986.85,"type":"quantitative","axis":null},"y":{"datum":-0.69,"type":"quantitative","axis":null}}},
{"data":{"values":[{}]},"mark":{"type":"point","shape":"triangle-right","filled":true,"size":190,"color":"#ff8c1a","opacity":1,"angle":-45},"encoding":{"x":{"datum":986.75,"type":"quantitative","axis":null},"y":{"datum":-1.1,"type":"quantitative","axis":null}}},
{"data":{"values":[{}]},"mark":{"type":"text","align":"left","baseline":"middle","fontSize":20,"color":"white","stroke":"white","strokeWidth":6,"strokeJoin":"round"},"encoding":{"x":{"datum":980.77,"type":"quantitative","axis":null},"y":{"datum":1.37,"type":"quantitative","axis":null},"text":{"value":"b) K=0.5, τₖ=2"}}},
{"data":{"values":[{}]},"mark":{"type":"text","align":"left","baseline":"middle","fontSize":20,"color":"#222"},"encoding":{"x":{"datum":980.77,"type":"quantitative","axis":null},"y":{"datum":1.37,"type":"quantitative","axis":null},"text":{"value":"b) K=0.5, τₖ=2"}}}
]},
{"width":395,"height":123,"resolve":{"axis":{"x":"independent","y":"independent"}},"layer":[
{"data":{"name":"b1r"},"mark":{"type":"line","color":"#e8141c","strokeWidth":2.2,"clip":true},"encoding":{"x":{"field":"t","type":"quantitative","scale":{"domain":[980,1000],"nice":false,"zero":false},"axis":{"orient":"bottom","values":[980,982.5,985,987.5,990,992.5,995,997.5,1000],"labels":false,"title":null,"minExtent":0,"maxExtent":0}},"y":{"field":"y","type":"quantitative","scale":{"domain":[-2,2],"nice":false,"zero":false},"axis":{"orient":"left","values":[-1.5,-1,-0.5,0,0.5,1,1.5],"labelExpr":"datum.value === 1 ? '1' : datum.value === 0 ? '0' : datum.value === -1 ? '-1' : ''","title":null}}}},
{"data":{"name":"b1g"},"mark":{"type":"line","color":"#3cdc3c","strokeWidth":2.6,"strokeDash":[11,7],"clip":true},"encoding":{"x":{"field":"t","type":"quantitative","scale":{"domain":[980,1000],"nice":false,"zero":false},"axis":{"orient":"top","values":[980,982.5,985,987.5,990,992.5,995,997.5,1000],"labels":false,"title":null}},"y":{"field":"y","type":"quantitative","scale":{"domain":[-2,2],"nice":false,"zero":false},"axis":{"orient":"right","values":[-1.5,-1,-0.5,0,0.5,1,1.5],"labels":false,"title":null}}}},
{"data":{"name":"arrB1"},"mark":{"type":"rule","color":"#ff8c1a","strokeWidth":4.5,"strokeCap":"round","clip":true},"encoding":{"x":{"field":"x","type":"quantitative","axis":null},"y":{"field":"y","type":"quantitative","axis":null},"x2":{"field":"x2"},"y2":{"field":"y2"}}},
{"data":{"values":[{}]},"mark":{"type":"point","shape":"triangle-right","filled":true,"size":190,"color":"#ff8c1a","opacity":1,"angle":48},"encoding":{"x":{"datum":983.88,"type":"quantitative","axis":null},"y":{"datum":1.36,"type":"quantitative","axis":null}}}
]}
],"spacing":0,"bounds":"flush"}
],"spacing":43},
{"vconcat":[
{"hconcat":[
{"vconcat":[
{"width":395,"height":122,"resolve":{"axis":{"x":"independent","y":"independent"}},"layer":[
{"data":{"name":"cr"},"mark":{"type":"line","color":"#e8141c","strokeWidth":2.2,"clip":true},"encoding":{"x":{"field":"t","type":"quantitative","scale":{"domain":[980,1000],"nice":false,"zero":false},"axis":{"orient":"bottom","values":[980,982.5,985,987.5,990,992.5,995,997.5,1000],"labels":false,"title":null,"minExtent":0,"maxExtent":0}},"y":{"field":"y","type":"quantitative","scale":{"domain":[-2,2],"nice":false,"zero":false},"axis":{"orient":"left","values":[-1.5,-1,-0.5,0,0.5,1,1.5],"labelExpr":"datum.value === 1 ? '1' : datum.value === 0 ? '0' : datum.value === -1 ? '-1' : ''","title":"u₂, v₂"}}}},
{"data":{"name":"cg"},"mark":{"type":"line","color":"#3cdc3c","strokeWidth":2.6,"strokeDash":[12,7],"clip":true},"encoding":{"x":{"field":"t","type":"quantitative","scale":{"domain":[980,1000],"nice":false,"zero":false},"axis":{"orient":"top","values":[980,982.5,985,987.5,990,992.5,995,997.5,1000],"labels":false,"title":null}},"y":{"field":"y","type":"quantitative","scale":{"domain":[-2,2],"nice":false,"zero":false},"axis":{"orient":"right","values":[-1.5,-1,-0.5,0,0.5,1,1.5],"labels":false,"title":null}}}},
{"data":{"values":[{}]},"mark":{"type":"text","align":"left","baseline":"middle","fontSize":20,"color":"white","stroke":"white","strokeWidth":6,"strokeJoin":"round"},"encoding":{"x":{"datum":980.77,"type":"quantitative","axis":null},"y":{"datum":1.38,"type":"quantitative","axis":null},"text":{"value":"c) K=0.5, τₖ=3"}}},
{"data":{"values":[{}]},"mark":{"type":"text","align":"left","baseline":"middle","fontSize":20,"color":"#222"},"encoding":{"x":{"datum":980.77,"type":"quantitative","axis":null},"y":{"datum":1.38,"type":"quantitative","axis":null},"text":{"value":"c) K=0.5, τₖ=3"}}}
]},
{"width":395,"height":123,"resolve":{"axis":{"x":"independent","y":"independent"}},"layer":[
{"data":{"name":"cr"},"mark":{"type":"line","color":"#e8141c","strokeWidth":2.2,"clip":true},"encoding":{"x":{"field":"t","type":"quantitative","scale":{"domain":[980,1000],"nice":false,"zero":false},"axis":{"orient":"bottom","values":[980,982.5,985,987.5,990,992.5,995,997.5,1000],"format":"d","labelExpr":"datum.value % 5 === 0 ? datum.label : ''","title":null}},"y":{"field":"y","type":"quantitative","scale":{"domain":[-2,2],"nice":false,"zero":false},"axis":{"orient":"left","values":[-1.5,-1,-0.5,0,0.5,1,1.5],"labelExpr":"datum.value === 1 ? '1' : datum.value === 0 ? '0' : datum.value === -1 ? '-1' : ''","title":"u₁, v₁"}}}},
{"data":{"name":"cg"},"mark":{"type":"line","color":"#3cdc3c","strokeWidth":2.6,"strokeDash":[12,7],"clip":true},"encoding":{"x":{"field":"t","type":"quantitative","scale":{"domain":[980,1000],"nice":false,"zero":false},"axis":{"orient":"top","values":[980,982.5,985,987.5,990,992.5,995,997.5,1000],"labels":false,"title":null}},"y":{"field":"y","type":"quantitative","scale":{"domain":[-2,2],"nice":false,"zero":false},"axis":{"orient":"right","values":[-1.5,-1,-0.5,0,0.5,1,1.5],"labels":false,"title":null}}}}
]}
],"spacing":0,"bounds":"flush"},
{"vconcat":[
{"width":395,"height":131,"resolve":{"axis":{"x":"independent","y":"independent"}},"layer":[
{"data":{"name":"dr"},"mark":{"type":"line","color":"#e8141c","strokeWidth":2.2,"clip":true},"encoding":{"x":{"field":"t","type":"quantitative","scale":{"domain":[980,1000],"nice":false,"zero":false},"axis":{"orient":"bottom","values":[980,982.5,985,987.5,990,992.5,995,997.5,1000],"labels":false,"title":null,"minExtent":0,"maxExtent":0}},"y":{"field":"y","type":"quantitative","scale":{"domain":[-2,2],"nice":false,"zero":false},"axis":{"orient":"left","values":[-1.5,-1,-0.5,0,0.5,1,1.5],"labelExpr":"datum.value === 1 ? '1' : datum.value === 0 ? '0' : datum.value === -1 ? '-1' : ''","title":null}}}},
{"data":{"name":"dg"},"mark":{"type":"line","color":"#3cdc3c","strokeWidth":2.6,"strokeDash":[11,7],"clip":true},"encoding":{"x":{"field":"t","type":"quantitative","scale":{"domain":[980,1000],"nice":false,"zero":false},"axis":{"orient":"top","values":[980,982.5,985,987.5,990,992.5,995,997.5,1000],"labels":false,"title":null}},"y":{"field":"y","type":"quantitative","scale":{"domain":[-2,2],"nice":false,"zero":false},"axis":{"orient":"right","values":[-1.5,-1,-0.5,0,0.5,1,1.5],"labels":false,"title":null}}}},
{"data":{"values":[{}]},"mark":{"type":"text","align":"left","baseline":"middle","fontSize":20,"color":"white","stroke":"white","strokeWidth":6,"strokeJoin":"round"},"encoding":{"x":{"datum":980.77,"type":"quantitative","axis":null},"y":{"datum":1.45,"type":"quantitative","axis":null},"text":{"value":"d) K=0.5, τₖ=1.5"}}},
{"data":{"values":[{}]},"mark":{"type":"text","align":"left","baseline":"middle","fontSize":20,"color":"#222"},"encoding":{"x":{"datum":980.77,"type":"quantitative","axis":null},"y":{"datum":1.45,"type":"quantitative","axis":null},"text":{"value":"d) K=0.5, τₖ=1.5"}}}
]},
{"width":395,"height":122,"resolve":{"axis":{"x":"independent","y":"independent"}},"layer":[
{"data":{"name":"dr"},"mark":{"type":"line","color":"#e8141c","strokeWidth":2.2,"clip":true},"encoding":{"x":{"field":"t","type":"quantitative","scale":{"domain":[980,1000],"nice":false,"zero":false},"axis":{"orient":"bottom","values":[980,982.5,985,987.5,990,992.5,995,997.5,1000],"labels":false,"title":null,"minExtent":0,"maxExtent":0}},"y":{"field":"y","type":"quantitative","scale":{"domain":[-2,2],"nice":false,"zero":false},"axis":{"orient":"left","values":[-1.5,-1,-0.5,0,0.5,1,1.5],"labelExpr":"datum.value === 1 ? '1' : datum.value === 0 ? '0' : datum.value === -1 ? '-1' : ''","title":null}}}},
{"data":{"name":"dg"},"mark":{"type":"line","color":"#3cdc3c","strokeWidth":2.6,"strokeDash":[11,7],"clip":true},"encoding":{"x":{"field":"t","type":"quantitative","scale":{"domain":[980,1000],"nice":false,"zero":false},"axis":{"orient":"top","values":[980,982.5,985,987.5,990,992.5,995,997.5,1000],"labels":false,"title":null}},"y":{"field":"y","type":"quantitative","scale":{"domain":[-2,2],"nice":false,"zero":false},"axis":{"orient":"right","values":[-1.5,-1,-0.5,0,0.5,1,1.5],"labels":false,"title":null}}}}
]}
],"spacing":0,"bounds":"flush"}
],"spacing":19},
{"hconcat":[
{"vconcat":[
{"width":395,"height":123,"resolve":{"axis":{"x":"independent","y":"independent"}},"layer":[
{"data":{"name":"e2r"},"mark":{"type":"line","color":"#e8141c","strokeWidth":2.2,"clip":true},"encoding":{"x":{"field":"t","type":"quantitative","scale":{"domain":[0,40],"nice":false,"zero":false},"axis":{"orient":"bottom","values":[0,5,10,15,20,25,30,35,40],"labels":false,"title":null,"minExtent":0,"maxExtent":0}},"y":{"field":"y","type":"quantitative","scale":{"domain":[-2,2],"nice":false,"zero":false},"axis":{"orient":"left","values":[-1.5,-1,-0.5,0,0.5,1,1.5],"labelExpr":"datum.value === 1 ? '1' : datum.value === 0 ? '0' : datum.value === -1 ? '-1' : ''","title":"u₂, v₂"}}}},
{"data":{"name":"e2g"},"mark":{"type":"line","color":"#3cdc3c","strokeWidth":2.6,"strokeDash":[12,7],"clip":true},"encoding":{"x":{"field":"t","type":"quantitative","scale":{"domain":[0,40],"nice":false,"zero":false},"axis":{"orient":"top","values":[0,5,10,15,20,25,30,35,40],"labels":false,"title":null}},"y":{"field":"y","type":"quantitative","scale":{"domain":[-2,2],"nice":false,"zero":false},"axis":{"orient":"right","values":[-1.5,-1,-0.5,0,0.5,1,1.5],"labels":false,"title":null}}}},
{"data":{"values":[{}]},"mark":{"type":"text","align":"right","baseline":"middle","fontSize":20,"color":"white","stroke":"white","strokeWidth":6,"strokeJoin":"round"},"encoding":{"x":{"datum":39.3,"type":"quantitative","axis":null},"y":{"datum":1.41,"type":"quantitative","axis":null},"text":{"value":"(e) K=0.9, τₖ=0.9"}}},
{"data":{"values":[{}]},"mark":{"type":"text","align":"right","baseline":"middle","fontSize":20,"color":"#222"},"encoding":{"x":{"datum":39.3,"type":"quantitative","axis":null},"y":{"datum":1.41,"type":"quantitative","axis":null},"text":{"value":"(e) K=0.9, τₖ=0.9"}}}
]},
{"width":395,"height":122,"resolve":{"axis":{"x":"independent","y":"independent"}},"layer":[
{"data":{"name":"e1r"},"mark":{"type":"line","color":"#e8141c","strokeWidth":2.2,"clip":true},"encoding":{"x":{"field":"t","type":"quantitative","scale":{"domain":[0,40],"nice":false,"zero":false},"axis":{"orient":"bottom","values":[0,5,10,15,20,25,30,35,40],"format":"d","labelExpr":"datum.value % 10 === 0 ? datum.label : ''","title":"t"}},"y":{"field":"y","type":"quantitative","scale":{"domain":[-2,2],"nice":false,"zero":false},"axis":{"orient":"left","values":[-1.5,-1,-0.5,0,0.5,1,1.5],"labelExpr":"datum.value === 1 ? '1' : datum.value === 0 ? '0' : datum.value === -1 ? '-1' : ''","title":"u₁, v₁"}}}},
{"data":{"name":"e1g"},"mark":{"type":"line","color":"#3cdc3c","strokeWidth":2.6,"strokeDash":[12,7],"clip":true},"encoding":{"x":{"field":"t","type":"quantitative","scale":{"domain":[0,40],"nice":false,"zero":false},"axis":{"orient":"top","values":[0,5,10,15,20,25,30,35,40],"labels":false,"title":null}},"y":{"field":"y","type":"quantitative","scale":{"domain":[-2,2],"nice":false,"zero":false},"axis":{"orient":"right","values":[-1.5,-1,-0.5,0,0.5,1,1.5],"labels":false,"title":null}}}},
{"data":{"values":[{}]},"mark":{"type":"text","align":"center","baseline":"middle","fontSize":22,"color":"#222"},"encoding":{"x":{"datum":20,"type":"quantitative","axis":null},"y":{"datum":1.41,"type":"quantitative","axis":null},"text":{"value":"t"}}}
]}
],"spacing":0,"bounds":"flush"},
{"vconcat":[
{"width":395,"height":123,"resolve":{"axis":{"x":"independent","y":"independent"}},"layer":[
{"data":{"name":"f2r"},"mark":{"type":"line","color":"#e8141c","strokeWidth":2.2,"clip":true},"encoding":{"x":{"field":"t","type":"quantitative","scale":{"domain":[980,1000],"nice":false,"zero":false},"axis":{"orient":"bottom","values":[980,982.5,985,987.5,990,992.5,995,997.5,1000],"labels":false,"title":null,"minExtent":0,"maxExtent":0}},"y":{"field":"y","type":"quantitative","scale":{"domain":[-2,2],"nice":false,"zero":false},"axis":{"orient":"left","values":[-1.5,-1,-0.5,0,0.5,1,1.5],"labelExpr":"datum.value === 1 ? '1' : datum.value === 0 ? '0' : datum.value === -1 ? '-1' : ''","title":null}}}},
{"data":{"name":"f2g"},"mark":{"type":"line","color":"#3cdc3c","strokeWidth":2.6,"strokeDash":[11,7],"clip":true},"encoding":{"x":{"field":"t","type":"quantitative","scale":{"domain":[980,1000],"nice":false,"zero":false},"axis":{"orient":"top","values":[980,982.5,985,987.5,990,992.5,995,997.5,1000],"labels":false,"title":null}},"y":{"field":"y","type":"quantitative","scale":{"domain":[-2,2],"nice":false,"zero":false},"axis":{"orient":"right","values":[-1.5,-1,-0.5,0,0.5,1,1.5],"labels":false,"title":null}}}},
{"data":{"values":[{}]},"mark":{"type":"text","align":"left","baseline":"middle","fontSize":20,"color":"white","stroke":"white","strokeWidth":6,"strokeJoin":"round"},"encoding":{"x":{"datum":980.52,"type":"quantitative","axis":null},"y":{"datum":1.4,"type":"quantitative","axis":null},"text":{"value":"(f) K=0.5, τₖ=3.2"}}},
{"data":{"values":[{}]},"mark":{"type":"text","align":"left","baseline":"middle","fontSize":20,"color":"#222"},"encoding":{"x":{"datum":980.52,"type":"quantitative","axis":null},"y":{"datum":1.4,"type":"quantitative","axis":null},"text":{"value":"(f) K=0.5, τₖ=3.2"}}}
]},
{"width":395,"height":121,"resolve":{"axis":{"x":"independent","y":"independent"}},"layer":[
{"data":{"name":"f1r"},"mark":{"type":"line","color":"#e8141c","strokeWidth":2.2,"clip":true},"encoding":{"x":{"field":"t","type":"quantitative","scale":{"domain":[980,1000],"nice":false,"zero":false},"axis":{"orient":"bottom","values":[980,982.5,985,987.5,990,992.5,995,997.5,1000],"format":"d","labelExpr":"datum.value % 5 === 0 ? datum.label : ''","title":"t"}},"y":{"field":"y","type":"quantitative","scale":{"domain":[-2,2],"nice":false,"zero":false},"axis":{"orient":"left","values":[-1.5,-1,-0.5,0,0.5,1,1.5],"labelExpr":"datum.value === 1 ? '1' : datum.value === 0 ? '0' : datum.value === -1 ? '-1' : ''","title":null}}}},
{"data":{"name":"f1g"},"mark":{"type":"line","color":"#3cdc3c","strokeWidth":2.6,"strokeDash":[11,7],"clip":true},"encoding":{"x":{"field":"t","type":"quantitative","scale":{"domain":[980,1000],"nice":false,"zero":false},"axis":{"orient":"top","values":[980,982.5,985,987.5,990,992.5,995,997.5,1000],"labels":false,"title":null}},"y":{"field":"y","type":"quantitative","scale":{"domain":[-2,2],"nice":false,"zero":false},"axis":{"orient":"right","values":[-1.5,-1,-0.5,0,0.5,1,1.5],"labels":false,"title":null}}}},
{"data":{"values":[{}]},"mark":{"type":"text","align":"center","baseline":"middle","fontSize":22,"color":"#222"},"encoding":{"x":{"datum":990,"type":"quantitative","axis":null},"y":{"datum":1.47,"type":"quantitative","axis":null},"text":{"value":"t"}}}
]}
],"spacing":0,"bounds":"flush"}
],"spacing":31}
],"spacing":2}
],
"config":{
"view":{"stroke":"#333","strokeWidth":1.5},
"axis":{"domain":false,"grid":false,"tickColor":"#222","tickWidth":1.3,"tickSize":-10,"labelFont":"Liberation Sans","labelFontSize":21,"labelColor":"#111","titleFont":"Liberation Sans","titleFontSize":20,"titleFontWeight":"normal","titleColor":"#111","labelFlush":false,"labelOverlap":false,"titlePadding":4},
"axisX":{"labelPadding":20,"labelFontSize":22,"titleFontSize":21,"titlePadding":1},
"axisY":{"labelPadding":22},
"axisTop":{"minExtent":0,"maxExtent":0},
"axisRight":{"minExtent":0,"maxExtent":0},
"text":{"font":"Liberation Sans"}
}
}
